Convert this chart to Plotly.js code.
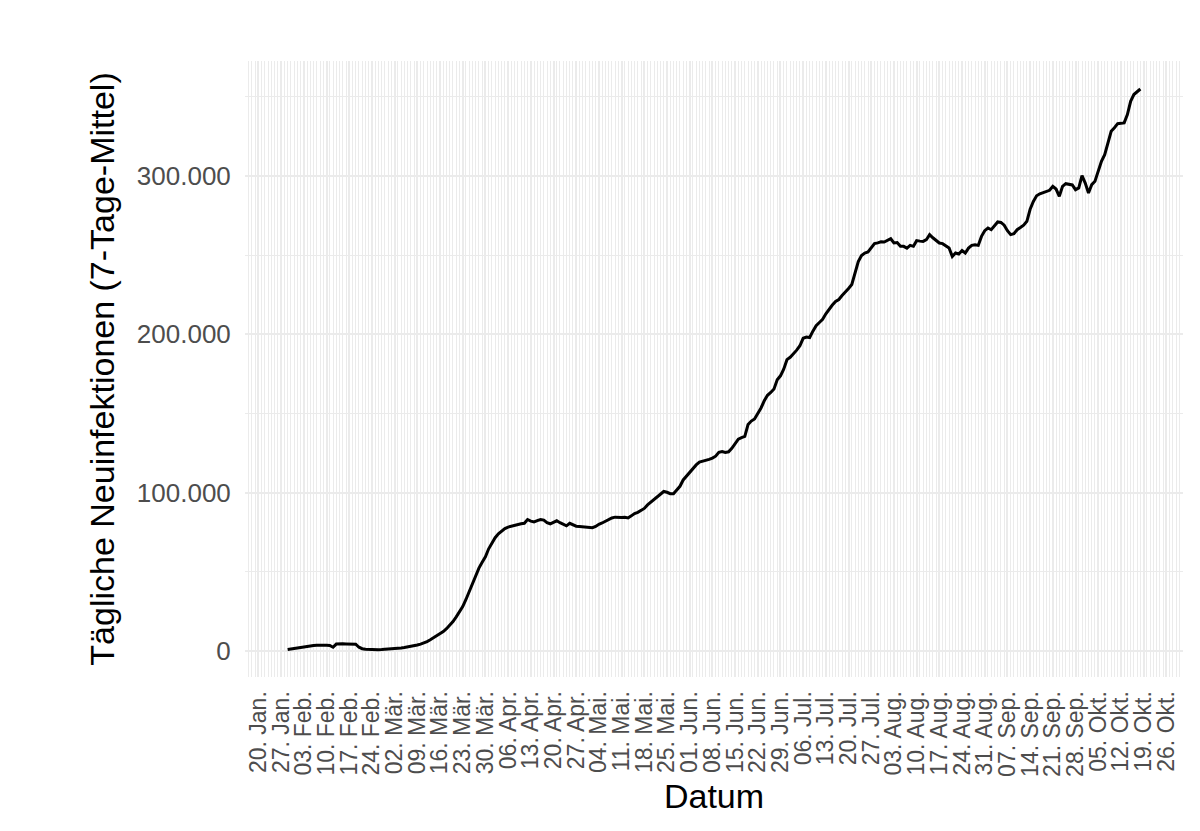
<!DOCTYPE html>
<html>
<head>
<meta charset="utf-8">
<script src="https://cdn.plot.ly/plotly-3.0.1.min.js"></script>
<style>
html,body{margin:0;padding:0;background:#fff;}
#chart{width:1200px;height:831px;}
</style>
</head>
<body>
<div id="chart"></div>
<script>
// Daily new infections, 7-day mean (2020), one array per month
const cases_jan = [900,1250,1650]; // from 29 Jan
const cases_feb = [2100,2400,2700,3000,3200,3400,3600,3700,3700,3600,3400,2300,4300,4500,4500,4400,4400,4300,4200,2300,1400,1100,900,800,750,750,800,900,1000];
const cases_mar = [1200,1400,1600,1800,2100,2400,2800,3200,3700,4300,5000,5900,7000,8200,9300,10600,12200,14000,16200,18500,21500,24500,28000,32500,37500,42800,47500,52300,56000,59500,64500];
const cases_apr = [68500,71500,74000,75800,77300,78200,78800,79300,79800,80300,80600,83000,82000,81500,82300,83000,82600,81000,80300,81400,82200,81000,79800,79000,80600,79600,78800,78600,78500,78000];
const cases_may = [78200,77800,78600,80000,80800,82000,83300,84000,84500,84200,84300,84400,84000,85300,86800,87500,88600,90000,92200,94000,95800,97300,99500,100700,100200,99300,99300,101500,104000,108000,110500];
const cases_jun = [113000,115500,117500,119300,119800,120300,121000,121800,123000,125500,126000,125400,125800,128000,131000,133800,134800,135500,143000,145200,146500,150000,153500,158000,161500,163300,165500,171300,173800,178000];
const cases_jul = [184000,185500,187500,190000,192800,197500,198300,198000,202000,205500,207500,209500,213000,216000,218500,220800,222000,224500,227100,229000,231500,238500,246000,249800,251400,252000,254500,257300,257800,258500,258300];
const cases_aug = [259400,260400,257700,258000,255600,255600,254500,256200,255600,259200,258900,258700,259800,263000,261000,259500,257700,257300,256000,254500,249200,251400,250800,253000,251400,254500,256200,256600,256200,261900,265500];
const cases_sep = [267200,266100,268500,271000,270700,269000,265500,263000,263600,266100,267500,269000,271400,279000,284000,287500,288800,289700,290300,291000,293500,291800,287200,293500,295200,294800,294400,291400,292500,300300];
const cases_oct = [295600,289300,294600,296700,303000,309300,313500,320900,328300,330500,333100,333300,333600,338800,347200,351500,353500,355000]; // to 18 Oct

const tickDates = ['2020-01-20','2020-01-27','2020-02-03','2020-02-10','2020-02-17','2020-02-24','2020-03-02','2020-03-09','2020-03-16','2020-03-23','2020-03-30','2020-04-06','2020-04-13','2020-04-20','2020-04-27','2020-05-04','2020-05-11','2020-05-18','2020-05-25','2020-06-01','2020-06-08','2020-06-15','2020-06-22','2020-06-29','2020-07-06','2020-07-13','2020-07-20','2020-07-27','2020-08-03','2020-08-10','2020-08-17','2020-08-24','2020-08-31','2020-09-07','2020-09-14','2020-09-21','2020-09-28','2020-10-05','2020-10-12','2020-10-19','2020-10-26'];
const tickLabels = ['20. Jan.','27. Jan.','03. Feb.','10. Feb.','17. Feb.','24. Feb.','02. Mär.','09. Mär.','16. Mär.','23. Mär.','30. Mär.','06. Apr.','13. Apr.','20. Apr.','27. Apr.','04. Mai.','11. Mai.','18. Mai.','25. Mai.','01. Jun.','08. Jun.','15. Jun.','22. Jun.','29. Jun.','06. Jul.','13. Jul.','20. Jul.','27. Jul.','03. Aug.','10. Aug.','17. Aug.','24. Aug.','31. Aug.','07. Sep.','14. Sep.','21. Sep.','28. Sep.','05. Okt.','12. Okt.','19. Okt.','26. Okt.'];

const monthBlocks = [[0,29,cases_jan],[1,1,cases_feb],[2,1,cases_mar],[3,1,cases_apr],[4,1,cases_may],[5,1,cases_jun],[6,1,cases_jul],[7,1,cases_aug],[8,1,cases_sep],[9,1,cases_oct]];
const xs = [], ys = [];
monthBlocks.forEach(([m, d0, arr]) => {
  arr.forEach((v, i) => {
    const dt = new Date(Date.UTC(2020, m, d0 + i));
    xs.push(dt.toISOString().slice(0, 10));
    ys.push(v);
  });
});

const FONT = 'Liberation Sans, Arial, Helvetica, sans-serif';

const trace = {
  type: 'scatter', mode: 'lines', x: xs, y: ys,
  line: {color: '#000000', width: 3},
  hoverinfo: 'x+y'
};

const layout = {
  width: 1200, height: 831,
  margin: {l: 245, r: 17, t: 61, b: 154},
  paper_bgcolor: '#ffffff', plot_bgcolor: '#ffffff',
  separators: ',.',
  showlegend: false,
  font: {family: FONT, color: '#4d4d4d'},
  xaxis: {
    type: 'date',
    range: ['2020-01-15 20:24', '2020-10-31 03:36'],
    tickmode: 'array', tickvals: tickDates, ticktext: tickLabels,
    tickangle: -90,
    tickfont: {family: FONT, size: 23, color: '#4d4d4d'},
    ticks: 'outside', ticklen: 4, tickcolor: 'rgba(0,0,0,0)',
    showgrid: true, gridcolor: '#ebebeb', gridwidth: 2,
    minor: {tickmode: 'linear', tick0: '2020-01-20', dtick: 86400000, showgrid: true, gridcolor: '#ebebeb', gridwidth: 1, ticks: ''},
    zeroline: false, showline: false,
    automargin: false, fixedrange: true,
    title: {text: 'Datum', font: {family: FONT, size: 34, color: '#000000'}, standoff: 8}
  },
  yaxis: {
    range: [-16500, 372700],
    tickmode: 'linear', tick0: 0, dtick: 100000, tickformat: ',d',
    tickfont: {family: FONT, size: 26, color: '#4d4d4d'},
    ticks: 'outside', ticklen: 8, tickcolor: 'rgba(0,0,0,0)',
    showgrid: true, gridcolor: '#ebebeb', gridwidth: 2,
    minor: {tickmode: 'linear', tick0: 50000, dtick: 100000, showgrid: true, gridcolor: '#ebebeb', gridwidth: 1, ticks: ''},
    zeroline: false, showline: false,
    automargin: false, fixedrange: true,
    title: {text: 'Tägliche Neuinfektionen (7-Tage-Mittel)', font: {family: FONT, size: 34, color: '#000000'}, standoff: 11}
  }
};

Plotly.newPlot('chart', [trace], layout, {displayModeBar: false, staticPlot: true});
</script>
</body>
</html>
